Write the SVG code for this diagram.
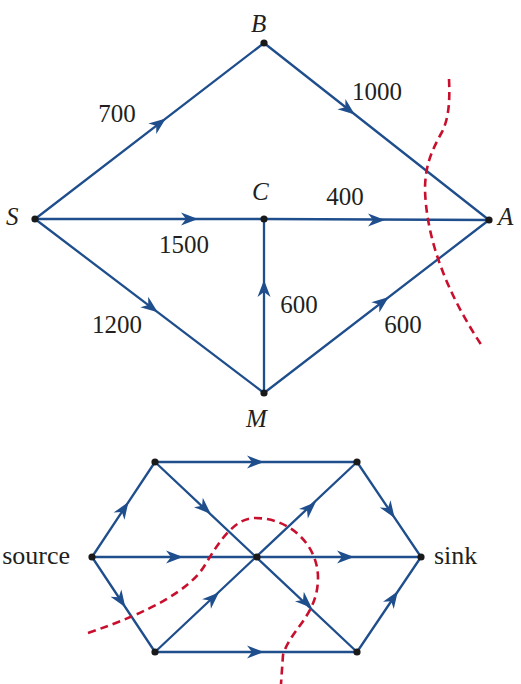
<svg xmlns="http://www.w3.org/2000/svg" xmlns:xlink="http://www.w3.org/1999/xlink" width="521" height="684" viewBox="0 0 521 684">
<style>
.e{stroke:#1f4e8d;stroke-width:2.3;fill:none;stroke-linecap:round}
.cut{stroke:#c8102e;stroke-width:2.6;fill:none;stroke-dasharray:8 5}
.n{fill:#1a1a1a}
.t{font-family:"Liberation Serif","Times New Roman",serif;font-size:25px;fill:#231f20}
.i{font-style:italic}
.ah{fill:#1f4e8d}
</style>
<defs>
<path id="ah" d="M1,0 L-16,-6.5 L-11,0 L-16,6.5 Z"/>
</defs>
<g id="connectors">
<line class="e" x1="35" y1="219" x2="264" y2="43"/>
<line class="e" x1="264" y1="43" x2="489" y2="220"/>
<line class="e" x1="35" y1="219" x2="264" y2="219"/>
<line class="e" x1="264" y1="219" x2="489" y2="220"/>
<line class="e" x1="35" y1="219" x2="264" y2="393"/>
<line class="e" x1="264" y1="393" x2="264" y2="219"/>
<line class="e" x1="264" y1="393" x2="489" y2="220"/>
<g class="ah">
<use xlink:href="#ah" transform="translate(165,119) rotate(-37.55)"/>
<use xlink:href="#ah" transform="translate(354,114) rotate(38.19)"/>
<use xlink:href="#ah" transform="translate(197,219)"/>
<use xlink:href="#ah" transform="translate(384,220)"/>
<use xlink:href="#ah" transform="translate(157,311.7) rotate(37.23)"/>
<use xlink:href="#ah" transform="translate(264,281) rotate(-90)"/>
<use xlink:href="#ah" transform="translate(388,297.7) rotate(-37.56)"/>
</g>
<line class="e" x1="92" y1="557" x2="155" y2="462"/>
<line class="e" x1="92" y1="557" x2="421" y2="557"/>
<line class="e" x1="92" y1="557" x2="155" y2="652"/>
<line class="e" x1="155" y1="462" x2="357" y2="462"/>
<line class="e" x1="155" y1="652" x2="357" y2="652"/>
<line class="e" x1="155" y1="462" x2="357" y2="652"/>
<line class="e" x1="155" y1="652" x2="357" y2="462"/>
<line class="e" x1="357" y1="462" x2="421" y2="557"/>
<line class="e" x1="357" y1="652" x2="421" y2="557"/>
<g class="ah">
<use xlink:href="#ah" transform="translate(127.9,502.8) rotate(-56.45)"/>
<use xlink:href="#ah" transform="translate(124.8,606.4) rotate(56.45)"/>
<use xlink:href="#ah" transform="translate(182,557)"/>
<use xlink:href="#ah" transform="translate(263,462)"/>
<use xlink:href="#ah" transform="translate(263,652)"/>
<use xlink:href="#ah" transform="translate(210.1,513.3) rotate(42.97)"/>
<use xlink:href="#ah" transform="translate(218.2,593.1) rotate(-42.97)"/>
<use xlink:href="#ah" transform="translate(315.1,502.8) rotate(-42.97)"/>
<use xlink:href="#ah" transform="translate(311.1,607.4) rotate(42.97)"/>
<use xlink:href="#ah" transform="translate(353,557)"/>
<use xlink:href="#ah" transform="translate(394.1,517.1) rotate(56.03)"/>
<use xlink:href="#ah" transform="translate(397.3,592.1) rotate(-56.03)"/>
</g>
</g>
<g id="cuts">
<path class="cut" d="M449,79 C450,100 449,118 442,132 C432,150 425,165 425,190 C427,250 455,305 482,346"/>
<path class="cut" d="M88,633 C150,612 190,590 205,565 C220,540 235,518 255,518 C290,518 318,545 318,578 C318,615 290,630 283,655 L281,684"/>
</g>
<g id="S"><circle class="n" cx="35" cy="219" r="3.6"/><text class="t i" x="6" y="225">S</text></g>
<g id="B"><circle class="n" cx="264" cy="43" r="3.6"/><text class="t i" x="251" y="32">B</text></g>
<g id="C"><circle class="n" cx="264" cy="219" r="3.6"/><text class="t i" x="252" y="200">C</text></g>
<g id="A"><circle class="n" cx="489" cy="220" r="3.6"/><text class="t i" x="498" y="225">A</text></g>
<g id="M"><circle class="n" cx="264" cy="393" r="3.6"/><text class="t i" x="246" y="427">M</text></g>
<g id="edge-labels" class="t" text-anchor="middle">
<text x="117" y="122">700</text>
<text x="377" y="100">1000</text>
<text x="345" y="205">400</text>
<text x="184" y="253">1500</text>
<text x="117" y="333">1200</text>
<text x="299" y="313">600</text>
<text x="403" y="333">600</text>
</g>
<g id="source"><circle class="n" cx="92" cy="557" r="3.6"/><text class="t" x="70" y="564" text-anchor="end" style="font-size:26px">source</text></g>
<g id="sink"><circle class="n" cx="421" cy="557" r="3.6"/><text class="t" x="434" y="564" style="font-size:26px">sink</text></g>
<g id="n-tl"><circle class="n" cx="155" cy="462" r="3.6"/></g>
<g id="n-tr"><circle class="n" cx="357" cy="462" r="3.6"/></g>
<g id="n-c"><circle class="n" cx="257" cy="557" r="3.6"/></g>
<g id="n-bl"><circle class="n" cx="155" cy="652" r="3.6"/></g>
<g id="n-br"><circle class="n" cx="357" cy="652" r="3.6"/></g>
</svg>
